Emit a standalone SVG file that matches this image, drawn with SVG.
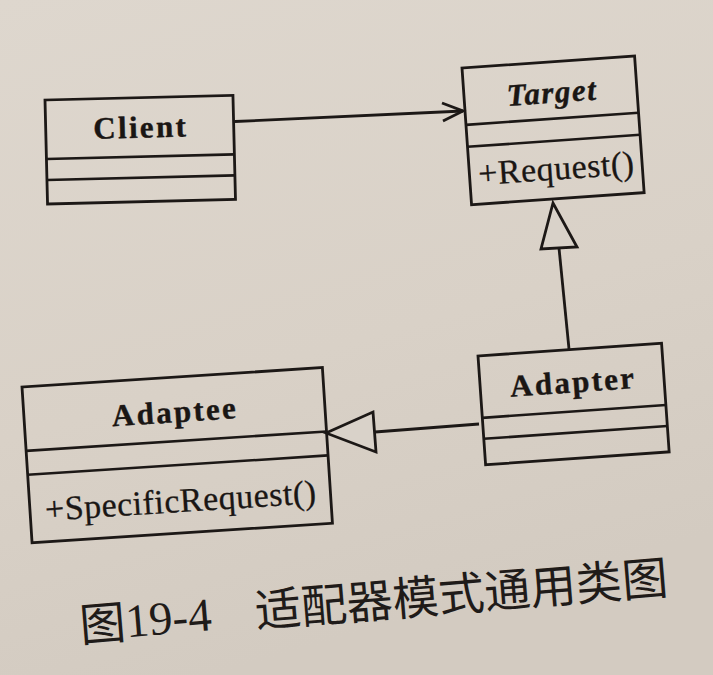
<svg xmlns="http://www.w3.org/2000/svg" width="713" height="675" viewBox="0 0 713 675">
  <defs>
    <linearGradient id="paper" x1="0" y1="0" x2="0.3" y2="1">
      <stop offset="0" stop-color="#ded7ce"/>
      <stop offset="0.6" stop-color="#d9d1c7"/>
      <stop offset="1" stop-color="#d3cbc1"/>
    </linearGradient>
    <style>
      .box { fill: none; stroke: #1c1816; stroke-width: 2.8; stroke-linejoin: miter; }
      .sep { stroke: #1c1816; stroke-width: 2.6; }
      .edge { fill: none; stroke: #1c1816; stroke-width: 2.8; stroke-linejoin: miter; }
      .tri { fill: #d9d2c9; stroke: #1c1816; stroke-width: 2.8; stroke-linejoin: miter; }
      .name { font-family: "Liberation Serif", serif; font-weight: bold; font-size: 31px; letter-spacing: 2.3px; fill: #1a1614; stroke: #1a1614; stroke-width: 0.4; text-anchor: middle; }
      .abstract { font-style: italic; letter-spacing: 1.5px; }
      .op { font-family: "Liberation Serif", serif; font-size: 34px; letter-spacing: 0.5px; fill: #1a1614; stroke: #1a1614; stroke-width: 0.3; text-anchor: middle; }
      .cap-num { font-family: "Liberation Serif", serif; font-size: 47px; fill: #1f1b19; }
      .cap-cjk { font-family: "Noto Sans CJK SC", sans-serif; font-size: 46px; fill: #1f1b19; }
    </style>
  </defs>

  <!-- page background -->
  <rect x="0" y="0" width="713" height="675" fill="url(#paper)"/>

  <!-- connectors -->
  <g id="connectors">
    <!-- Client -> Target association -->
    <path class="edge" d="M235,121.5 L463,111"/>
    <path class="edge" d="M442,103 L463,111 L443,121"/>
    <!-- Adapter -> Target generalization -->
    <path class="edge" d="M559,248 L569,349"/>
    <polygon class="tri" points="553,203 541,249 577,247"/>
    <!-- Adapter -> Adaptee -->
    <path class="edge" d="M375,432 L479,424"/>
    <polygon class="tri" points="326,433 373,412 376,452"/>
  </g>

  <!-- Client -->
  <g id="client" transform="translate(45,100) rotate(-1.4)">
    <rect class="box" x="0" y="0" width="188" height="104"/>
    <line class="sep" x1="0" y1="59" x2="188" y2="59"/>
    <line class="sep" x1="0" y1="80" x2="188" y2="80"/>
    <text class="name" x="95" y="40">Client</text>
  </g>

  <!-- Target -->
  <g id="target" transform="translate(462,68) rotate(-4)">
    <rect class="box" x="0" y="0" width="173" height="137"/>
    <line class="sep" x1="0" y1="57" x2="173" y2="57"/>
    <line class="sep" x1="0" y1="79" x2="173" y2="79"/>
    <text class="name abstract" x="88" y="41">Target</text>
    <text class="op" x="87" y="118">+Request()</text>
  </g>

  <!-- Adapter -->
  <g id="adapter" transform="translate(478,356) rotate(-4)">
    <rect class="box" x="0" y="0" width="184" height="109"/>
    <line class="sep" x1="0" y1="62" x2="184" y2="62"/>
    <line class="sep" x1="0" y1="83" x2="184" y2="83"/>
    <text class="name" x="93" y="43">Adapter</text>
  </g>

  <!-- Adaptee -->
  <g id="adaptee" transform="translate(22,387) rotate(-3.7)">
    <rect class="box" x="0" y="0" width="301" height="156"/>
    <line class="sep" x1="0" y1="64" x2="301" y2="64"/>
    <line class="sep" x1="0" y1="88" x2="301" y2="88"/>
    <text class="name" x="151" y="45">Adaptee</text>
    <text class="op" x="151" y="135">+SpecificRequest()</text>
  </g>

  <!-- figure caption -->
  <g id="caption" transform="translate(81,642) rotate(-4.7)">
    <text class="cap-cjk" x="0" y="0">图</text>
    <text class="cap-num" x="46" y="-1">19-4</text>
    <text class="cap-cjk" x="176" y="0">适配器模式通用类图</text>
  </g>
</svg>
